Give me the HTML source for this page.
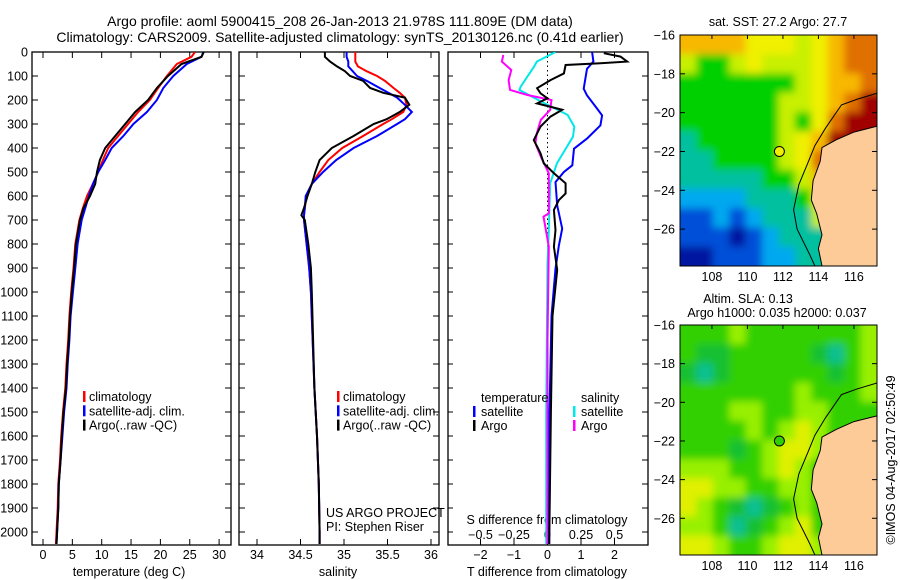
<!DOCTYPE html>
<html><head><meta charset="utf-8"><style>
html,body{margin:0;padding:0;background:#fff}
svg{display:block}
text{font-family:"Liberation Sans",sans-serif;font-size:12.5px;fill:#000}
</style></head><body>
<svg id="c" width="900" height="580" viewBox="0 0 900 580" xmlns="http://www.w3.org/2000/svg">
<defs>
<clipPath id="cp1"><rect x="32" y="52" width="199" height="493"/></clipPath>
<clipPath id="cp2"><rect x="239" y="52" width="200" height="493"/></clipPath>
<clipPath id="cp3"><rect x="448" y="52" width="200" height="493"/></clipPath>
<clipPath id="cm1"><rect x="680" y="35" width="197" height="231"/></clipPath>
<clipPath id="cm2"><rect x="680" y="325" width="197" height="230"/></clipPath>
<filter id="bl" x="-5%" y="-5%" width="110%" height="110%"><feGaussianBlur stdDeviation="4"/></filter>
</defs>
<text x="340" y="26" text-anchor="middle" style="font-size:14px">Argo profile: aoml 5900415_208 26-Jan-2013 21.978S 111.809E (DM data)</text>
<text x="340" y="42" text-anchor="middle" style="font-size:14px">Climatology: CARS2009. Satellite-adjusted climatology: synTS_20130126.nc (0.41d earlier)</text>
<g id="g"></g>
</svg>
<script>
// ---- data ----
const depths = [0,20,50,100,150,200,250,300,350,400,450,500,550,600,650,700,800,900,1000,1100,1200,1300,1400,1500,1600,1700,1800,1900,2000,2050];
const tempArgo = [27.4,27.0,23.6,21.3,19.4,17.9,15.7,14.0,12.3,10.6,9.7,9.2,8.9,8.0,6.9,6.3,5.6,5.3,4.9,4.6,4.4,4.1,3.9,3.5,3.2,3.0,2.7,2.6,2.4,2.3];
const tempClim = [25.9,25.3,22.8,21.1,19.6,18.2,16.2,14.5,12.8,11.1,10.2,9.4,8.5,7.5,6.8,6.2,5.5,5.2,4.8,4.5,4.3,4.0,3.8,3.4,3.1,2.9,2.6,2.5,2.3,2.2];
const tempSat = [27.3,27.0,24.5,22.2,20.5,19.4,17.7,15.4,13.7,11.7,10.6,9.4,8.5,7.8,7.2,6.6,5.9,5.5,5.1,4.7,4.5,4.2,4.0,3.6,3.3,3.0,2.7,2.6,2.4,2.3];
const salDepths = [0,20,40,60,80,100,120,150,170,190,220,250,280,300,350,400,450,500,550,600,650,680,700,800,900,1000,1400,1600,1800,2000,2050];
const salArgo = [34.78,34.78,34.84,34.92,35.01,35.07,35.22,35.30,35.45,35.70,35.75,35.64,35.49,35.34,35.11,34.86,34.72,34.67,34.63,34.58,34.54,34.51,34.55,34.59,34.62,34.63,34.66,34.69,34.71,34.72,34.72];
const salClim = [35.13,35.13,35.13,35.16,35.26,35.38,35.47,35.57,35.64,35.70,35.72,35.68,35.55,35.45,35.22,34.98,34.82,34.72,34.63,34.57,34.55,34.54,34.54,34.57,34.60,34.62,34.66,34.69,34.71,34.72,34.72];
const salSat = [35.03,35.03,35.05,35.05,35.10,35.15,35.26,35.41,35.51,35.61,35.70,35.78,35.70,35.61,35.38,35.11,34.91,34.76,34.63,34.56,34.55,34.54,34.54,34.57,34.60,34.62,34.66,34.69,34.71,34.72,34.72];
const dTSatDepths = [0,40,70,153,181,236,264,306,361,403,472,500,542,639,736,806,903,1100,1500,2050];
const dTSat = [1.33,1.37,1.18,1.08,1.18,1.48,1.63,1.58,1.18,0.79,0.74,0.49,0.24,0.29,0.44,0.34,0.24,0.12,0.06,0.05];
const dTArgoDepths = [5,19,40,47,54,89,117,151,172,193,214,241,269,311,367,422,464,505,547,589,617,658,742,811,908,1100,1500,2050];
const dTArgo = [1.68,2.18,2.38,1.58,0.54,0.49,0.09,-0.31,-0.21,0.0,-0.31,0.44,0.09,-0.21,-0.41,-0.21,-0.11,0.19,0.54,0.54,0.34,0.19,0.24,0.19,0.29,0.15,0.1,0.05];
const dSSatDepths = [0,40,61,144,158,206,262,311,353,464,547,742,881,1500,2050];
const dSSat = [0.06,-0.08,-0.10,-0.20,-0.21,-0.05,0.15,0.20,0.19,0.07,0.02,0.01,0.0,-0.01,-0.01];
const dSArgoDepths = [12,40,75,117,158,179,200,241,283,339,380,436,505,672,686,811,1200,2050];
const dSArgo = [-0.33,-0.34,-0.27,-0.29,-0.28,-0.15,0.03,0.02,-0.05,-0.08,-0.09,-0.05,0.01,0.01,-0.03,0.01,0.0,0.0];
const depthTicks = [0,100,200,300,400,500,600,700,800,900,1000,1100,1200,1300,1400,1500,1600,1700,1800,1900,2000];
const tempTicks = [0,5,10,15,20,25,30];
const salTicks = [34,34.5,35,35.5,36];
const dTTicks = [-2,-1,0,1,2];
const dSTicks = [-0.5,-0.25,0,0.25,0.5];
const lonTicks = [108,110,112,114,116];
const latTicks = [-16,-18,-20,-22,-24,-26];
// SST map grid codes (rows -16 -> -27.9, cols 106.2 -> 117.3)
const sstGrid = [
[7,7,7,7,6,6,6,5,6,7,8,8],
[5,4,4,5,6,5,5,5,6,7,8,8],
[4,4,4,4,4,4,4,5,6,7,7,8],
[4,4,4,4,4,4,5,5,6,7,8,9],
[4,4,4,4,4,4,5,4,6,8,9,9],
[3,4,4,4,4,4,5,6,7,9,9,9],
[3,3,4,4,4,4,5,6,8,9,9,9],
[3,3,3,3,3,4,4,5,7,8,8,8],
[2,2,2,2,3,3,3,4,6,7,7,7],
[1,1,2,1,2,3,3,3,5,5,5,5],
[1,1,1,0,1,2,3,3,3,3,3,3],
[0,0,1,1,1,2,2,3,3,3,3,3]];
const sstColors = ['#0018a0','#0050d8','#00a8f0','#00c0a0','#00d000','#c8f000','#f0f000','#f8b800','#e07000','#a00000'];
const slaGrid = [
[2,2,2,3,2,2,2,2,2,2,2,3],
[2,1,1,2,2,2,2,2,1,0,2,3],
[1,0,1,2,2,2,2,2,2,1,2,3],
[2,2,2,2,2,2,2,3,2,2,2,3],
[2,2,2,3,3,2,2,3,3,2,2,2],
[2,2,2,2,3,2,3,4,3,2,2,2],
[2,2,2,1,2,3,4,4,3,2,2,2],
[3,3,3,2,2,3,4,3,2,2,2,2],
[4,4,3,3,2,2,3,3,2,2,2,2],
[4,3,2,1,0,1,2,3,2,2,2,2],
[3,3,2,0,1,2,3,4,2,2,2,2],
[4,4,3,2,2,3,4,4,3,2,2,2]];
const slaColors = ['#10c090','#18c030','#30d000','#98f000','#e0f000'];
const landLon = [117.3,116,115,114.2,114.1,113.7,113.6,113.9,114.2,114.0,114.2,117.3];
const landLat = [-20.7,-21.0,-21.4,-21.8,-22.5,-23.5,-24.5,-25.2,-26.3,-27.0,-27.9,-27.9];
const isoLon = [117.3,116.2,115.3,114.4,113.8,113.4,112.9,112.6,112.8,113.5,113.8];
const isoLat = [-19.0,-19.3,-19.6,-20.8,-21.7,-22.6,-23.7,-25.0,-26.0,-27.3,-27.9];
const argoLon = 111.8, argoLat = -22.0;

// ---- helpers ----
const NS='http://www.w3.org/2000/svg';
const G=document.getElementById('g');
function mk(tag,attrs,parent){const e=document.createElementNS(NS,tag);for(const k in attrs)e.setAttribute(k,attrs[k]);(parent||G).appendChild(e);return e;}
function txt(x,y,s,anchor,parent,size){const t=mk('text',{x:x,y:y,'text-anchor':anchor||'start'},parent);if(size)t.style.fontSize=size;t.textContent=s;return t;}
const yD = d => 52 + d*0.24;
const xT = t => 43 + t*5.87;
const xS = s => 257 + (s-34)*87;
const xDT = v => 547.5 + v*33.5;
const xDS = v => 547.5 + v*134;
const LON0=106.2, LON1=117.3, LAT0=-16, LAT1=-27.9;
const mX = lon => 680 + (lon-LON0)/(LON1-LON0)*197;
const m1Y = lat => 35 + (LAT0-lat)/(LAT0-LAT1)*231;
const m2Y = lat => 325 + (LAT0-lat)/(LAT0-LAT1)*230;

function frame(x,y,w,h,name){const r=mk('rect',{x:x,y:y,width:w,height:h,fill:'none',stroke:'#000','stroke-width':1.3});}
function line(xs,ys,color,clip,name,w){
  const pts=xs.map((x,i)=>x.toFixed(1)+','+ys[i].toFixed(1)).join(' ');
  const p=mk('polyline',{points:pts,fill:'none',stroke:color,'stroke-width':w||2,'clip-path':'url(#'+clip+')','stroke-linejoin':'miter'});
  
}

// ---- depth axis (panel 1 left) ----
const ya=mk('g',{});
depthTicks.forEach(d=>{txt(28,yD(d)+4.5,String(d),'end',ya);
  [[32,38],[225,231],[239,245],[433,439],[448,453],[642,648]].forEach(([a,b])=>mk('line',{x1:a,x2:b,y1:yD(d),y2:yD(d),stroke:'#000'},ya));});

// ---- panel 1 temperature ----
frame(32,52,199,493,'temperature-panel-frame');
const tx=mk('g',{});
tempTicks.forEach(t=>{txt(xT(t),559,String(t),'middle',tx);mk('line',{x1:xT(t),x2:xT(t),y1:545,y2:539,stroke:'#000'},tx);mk('line',{x1:xT(t),x2:xT(t),y1:52,y2:58,stroke:'#000'},tx);});
const tt=txt(129,576,'temperature (deg C)','middle');
line(tempClim.map(xT),depths.map(yD),'#ff0000','cp1','temp-climatology-line');
line(tempSat.map(xT),depths.map(yD),'#0000ff','cp1','temp-satellite-line');
line(tempArgo.map(xT),depths.map(yD),'#000000','cp1','temp-argo-line');

function legend(x,y,items,name){const g=mk('g',{});
  items.forEach(([c,s],i)=>{mk('rect',{x:x,y:y+i*14.3-10,width:2.5,height:11,fill:c},g);txt(x+6,y+i*14.3,s,'start',g);});}
legend(83,401,[['#ff0000','climatology'],['#0000ff','satellite-adj. clim.'],['#000','Argo(..raw -QC)']],'temperature-legend');

// ---- panel 2 salinity ----
frame(239,52,200,493,'salinity-panel-frame');
const sx=mk('g',{});
salTicks.forEach(s=>{txt(xS(s),559,String(s),'middle',sx);mk('line',{x1:xS(s),x2:xS(s),y1:545,y2:539,stroke:'#000'},sx);mk('line',{x1:xS(s),x2:xS(s),y1:52,y2:58,stroke:'#000'},sx);});
const st=txt(338,576,'salinity','middle');
line(salClim.map(xS),salDepths.map(yD),'#ff0000','cp2','sal-climatology-line');
line(salSat.map(xS),salDepths.map(yD),'#0000ff','cp2','sal-satellite-line');
line(salArgo.map(xS),salDepths.map(yD),'#000000','cp2','sal-argo-line');
legend(337,401,[['#ff0000','climatology'],['#0000ff','satellite-adj. clim.'],['#000','Argo(..raw -QC)']],'salinity-legend');
const us=txt(326,517,'US ARGO PROJECT');
const pi=txt(326,531,'PI: Stephen Riser');

// ---- panel 3 differences ----
frame(448,52,200,493,'difference-panel-frame');
const zl=mk('line',{x1:547.5,x2:547.5,y1:52,y2:545,stroke:'#000','stroke-dasharray':'1.5,3'});
const dx=mk('g',{});
dTTicks.forEach(v=>{txt(xDT(v),559,String(v).replace('-','\u2212'),'middle',dx);mk('line',{x1:xDT(v),x2:xDT(v),y1:545,y2:539,stroke:'#000'},dx);mk('line',{x1:xDT(v),x2:xDT(v),y1:52,y2:58,stroke:'#000'},dx);});
const dsx=mk('g',{});
dSTicks.forEach(v=>{txt(xDS(v),539,String(v).replace('-','\u2212'),'middle',dsx);});
const dtt=txt(547,576,'T difference from climatology','middle');
const dst=txt(547,524,'S difference from climatology','middle');
line(dSSat.map(xDS),dSSatDepths.map(yD),'#00e8e8','cp3','s-satellite-diff-line');
line(dSArgo.map(xDS),dSArgoDepths.map(yD),'#ff00ff','cp3','s-argo-diff-line');
line(dTSat.map(xDT),dTSatDepths.map(yD),'#0000ff','cp3','t-satellite-diff-line');
line(dTArgo.map(xDT),dTArgoDepths.map(yD),'#000000','cp3','t-argo-diff-line');
const l3=mk('g',{});
txt(481,402,'temperature','start',l3);txt(581,402,'salinity','start',l3);
[['#0000ff','satellite',473,416],['#000','Argo',473,430],['#00e8e8','satellite',573,416],['#ff00ff','Argo',573,430]].forEach(([c,s,x,y])=>{mk('rect',{x:x,y:y-10,width:2.5,height:11,fill:c},l3);txt(x+8,y,s,'start',l3);});

// ---- maps ----
function map(grid,colors,yf,clip,top,name,dotFill){
  const g=mk('g',{});
  const cells=mk('g',{'clip-path':'url(#'+clip+')'},g);
  const inner=mk('g',{filter:'url(#bl)'},cells);
  const cw=(LON1-LON0)/grid[0].length, ch=(LAT0-LAT1)/grid.length;
  grid.forEach((row,r)=>row.forEach((v,c)=>{
    const x0=mX(LON0+c*cw)-(c==0?10:0), x1=mX(LON0+(c+1)*cw)+(c==row.length-1?10:0);
    const y0=yf(LAT0-r*ch)-(r==0?10:0), y1=yf(LAT0-(r+1)*ch)+(r==grid.length-1?10:0);
    const cell=mk('rect',{x:x0,y:y0,width:x1-x0+0.5,height:y1-y0+0.5,fill:colors[v]},inner);
    
    
  }));
  const land=mk('polygon',{points:landLon.map((l,i)=>mX(l).toFixed(1)+','+yf(landLat[i]).toFixed(1)).join(' ')+' '+mX(LON1)+','+(yf(LAT1)+2),fill:'#fccb98',stroke:'#000','stroke-width':1},cells);
  
  const iso=mk('polyline',{points:isoLon.map((l,i)=>mX(l).toFixed(1)+','+yf(isoLat[i]).toFixed(1)).join(' '),fill:'none',stroke:'#000','stroke-width':1},cells);
  
  const dot=mk('circle',{cx:mX(argoLon),cy:yf(argoLat),r:5,fill:dotFill,stroke:'#000','stroke-width':1},g);
  
  mk('rect',{x:680,y:top,width:197,height:yf(LAT1)-top,fill:'none',stroke:'#000','stroke-width':1},g);
  const bot=yf(LAT1);
  latTicks.forEach(l=>{txt(675,yf(l)+4.5,String(l).replace('-','\u2212'),'end',g);mk('line',{x1:680,x2:685,y1:yf(l),y2:yf(l),stroke:'#000'},g);mk('line',{x1:872,x2:877,y1:yf(l),y2:yf(l),stroke:'#000'},g);});
  lonTicks.forEach(l=>{txt(mX(l),bot+15,String(l),'middle',g);mk('line',{x1:mX(l),x2:mX(l),y1:top,y2:top+4,stroke:'#000'},g);});
}
map(sstGrid,sstColors,m1Y,'cm1',35,'sst-map','#f0f000');
map(slaGrid,slaColors,m2Y,'cm2',325,'sla-map','#30d000');
const t1=txt(778,26,'sat. SST: 27.2  Argo: 27.7','middle');
const t2=txt(748,303,'Altim. SLA: 0.13','middle');
const t3=txt(777,317,'Argo h1000: 0.035 h2000: 0.037','middle');
const cr=txt(0,0,'\u00a9IMOS 04-Aug-2017 02:50:49','middle');cr.setAttribute('transform','translate(895,460) rotate(-90)');


</script>
</body></html>
